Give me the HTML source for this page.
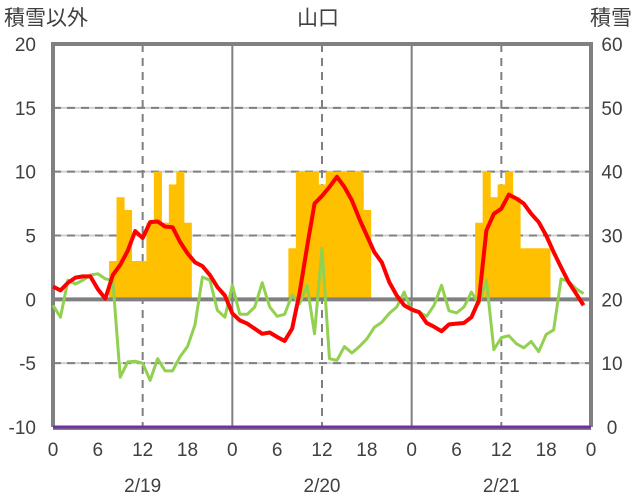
<!DOCTYPE html>
<html><head><meta charset="utf-8"><style>
body{margin:0;background:#fff;width:636px;height:501px;overflow:hidden}
svg{display:block}
text{font-family:"Liberation Sans","Noto Sans CJK JP",sans-serif;fill:#404040}
</style></head><body>
<svg id="chart" width="636" height="501" viewBox="0 0 636 501" xmlns="http://www.w3.org/2000/svg">
<text x="4" y="25" font-size="21">積雪以外</text>
<text x="318" y="25" font-size="21" text-anchor="middle">山口</text>
<text x="632" y="25" font-size="21" text-anchor="end">積雪</text>
<g id="grid"></g><g id="bars"></g><g id="frame"></g><g id="lines"></g><g id="labels"></g>
</svg>
<script>
const leftTicks=[20,15,10,5,0,-5,-10];
const rightTicks=[60,50,40,30,20,10,0];
const hourTicks=[0,6,12,18,0,6,12,18,0,6,12,18,0];
const dateLabels=["2/19","2/20","2/21"];
const snowHours=[8,9,10,11,12,13,14,15,16,17,18,32,33,34,35,36,37,38,39,40,41,42,57,58,59,60,61,62,63,64,65,66];
const snowValues=[26,36,34,26,26,32,40,32,38,40,32,28,40,40,40,38,40,40,40,40,40,34,32,40,36,38,40,36,28,28,28,28];
const tempValues=[1.0,0.7,1.3,1.7,1.8,1.8,0.8,0.05,1.9,2.7,3.8,5.35,4.8,6.05,6.1,5.7,5.65,4.5,3.6,2.9,2.6,1.9,0.96,0.3,-1.1,-1.65,-1.9,-2.3,-2.7,-2.6,-2.95,-3.26,-2.3,0.5,4.1,7.5,8.1,8.8,9.6,8.8,7.75,6.3,5.0,3.7,2.9,1.35,0.3,-0.47,-0.8,-1.0,-1.85,-2.15,-2.5,-1.96,-1.9,-1.85,-1.4,-0.08,5.4,6.7,7.1,8.2,7.9,7.5,6.7,6.05,5.0,3.7,2.5,1.35,0.45,-0.47];
const otherValues=[-0.47,-1.4,1.5,1.2,1.5,1.9,2.0,1.6,1.5,-6.1,-4.9,-4.85,-5.0,-6.35,-4.65,-5.6,-5.6,-4.5,-3.7,-2.0,1.75,1.5,-0.86,-1.4,1.1,-1.17,-1.17,-0.6,1.3,-0.6,-1.33,-1.17,0.36,-0.34,1.1,-2.7,4.0,-4.65,-4.78,-3.7,-4.2,-3.7,-3.1,-2.2,-1.8,-1.1,-0.6,0.57,-0.9,-1.0,-1.33,-0.47,1.1,-0.9,-1.07,-0.6,0.57,-0.34,1.5,-3.94,-3.0,-2.85,-3.47,-3.8,-3.3,-4.1,-2.75,-2.4,1.6,1.4,0.83,0.45];
const baseValues=[0,0];

const X0=53,X1=591,Y0=44,Y1=427;
const xs=h=>X0+(X1-X0)*h/72;
const yL=v=>Y1-(v+10)/30*(Y1-Y0);
const yR=v=>Y1-v/60*(Y1-Y0);
const NS="http://www.w3.org/2000/svg";
function mk(tag,attrs,parent){const e=document.createElementNS(NS,tag);for(const k in attrs)e.setAttribute(k,attrs[k]);document.getElementById(parent).appendChild(e);return e;}

leftTicks.forEach(v=>{
  if(v===20||v===-10||v===0)return;
  const y=yL(v);
  const g1=mk('line',{x1:X0,x2:X1,y1:y,y2:y,stroke:'#d0d0d0','stroke-width':2},'grid');
  
  
  const g2=mk('line',{x1:X0,x2:X1,y1:y,y2:y,stroke:'#808080','stroke-width':2,'stroke-dasharray':'8,6'},'grid');
  
  
});
[12,36,60].forEach(h=>{
  const l=mk('line',{x1:xs(h),x2:xs(h),y1:Y0,y2:Y1,stroke:'#808080','stroke-width':2,'stroke-dasharray':'8,6'},'grid');
  
  
});
[24,48].forEach(h=>{
  const l=mk('line',{x1:xs(h),x2:xs(h),y1:Y0,y2:Y1,stroke:'#808080','stroke-width':2},'grid');
  
  
});

const bw=(X1-X0)/72;
snowHours.forEach((h,i)=>{
  const top=yR(snowValues[i]),base=yR(20);
  const r=mk('rect',{x:xs(h)-bw/2,y:Math.min(top,base),width:bw+0.6,height:Math.abs(base-top),fill:'#ffc000'},'bars');
  
  
});

const z=mk('line',{x1:X0,x2:X1,y1:yL(0),y2:yL(0),stroke:'#808080','stroke-width':4},'frame');


const fr=mk('path',{d:`M${X0},${Y1}V${Y0}H${X1}V${Y1}`,fill:'none',stroke:'#808080','stroke-width':4},'frame');


const bl=mk('line',{x1:X0,x2:X1,y1:Y1+1,y2:Y1+1,stroke:'#808080','stroke-width':4},'frame');



function poly(vals,fn,color,w,name){
  const pts=vals.map((v,i)=>xs(i)+','+fn(v)).join(' ');
  const p=mk('polyline',{points:pts,fill:'none',stroke:color,'stroke-width':w,'stroke-linejoin':'round'},'lines');
  
  
}
const base=mk('line',{x1:X0,x2:X1,y1:yR(baseValues[0]),y2:yR(baseValues[1]),stroke:'#7030a0','stroke-width':3},'lines');


poly(otherValues,yL,'#92d050',3,'green-series-line');
poly(tempValues,yL,'#ff0000',4,'temperature-line');

leftTicks.forEach(v=>{
  const t=mk('text',{x:36,y:yL(v)+7,'font-size':19,'text-anchor':'end'},'labels');
  t.textContent=v;
  
  
});
rightTicks.forEach(v=>{
  const t=mk('text',{x:612,y:yR(v)+7,'font-size':19,'text-anchor':'middle'},'labels');
  t.textContent=v;
  
  
});
hourTicks.forEach((v,i)=>{
  const t=mk('text',{x:xs(i*6),y:456,'font-size':19,'text-anchor':'middle'},'labels');
  t.textContent=v;
  
  
});
dateLabels.forEach((d,i)=>{
  const t=mk('text',{x:xs(i*24+12),y:492,'font-size':19,'text-anchor':'middle'},'labels');
  t.textContent=d;
  
  
});
</script>
</body></html>
